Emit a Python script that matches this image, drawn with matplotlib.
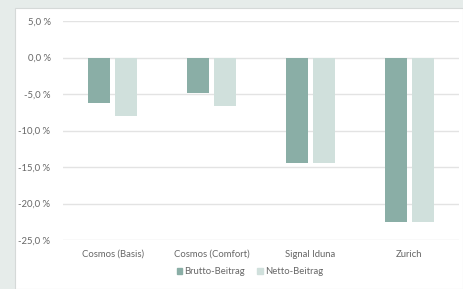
import matplotlib
matplotlib.use("Agg")
import matplotlib.pyplot as plt
from matplotlib.patches import Rectangle, Patch
from matplotlib.ticker import FuncFormatter
import numpy as np

categories = ["Cosmos (Basis)", "Cosmos (Comfort)", "Signal Iduna", "Zurich"]
brutto = [-6.2, -4.8, -14.5, -22.6]
netto = [-8.0, -6.6, -14.5, -22.6]
series_names = ["Brutto-Beitrag", "Netto-Beitrag"]
yticks = [5, 0, -5, -10, -15, -20, -25]

c_brutto = "#8aaea6"
c_netto = "#d0e0dc"
txt = "#666666"

plt.rcParams['font.family'] = ['Lato', 'DejaVu Sans']

W, H = 463, 289
fig = plt.figure(figsize=(W/100, H/100), dpi=100)
fig.patch.set_facecolor("#e6ecea")
fig.patches.append(Rectangle((15/W, 0), 1 - 15/W, 1 - 8/H, transform=fig.transFigure,
                             facecolor="white", edgecolor="#d5d9d8", linewidth=0.8, zorder=-5))

ax = fig.add_axes([63/W, 1 - 240/H, (459-63)/W, (240-21)/H])
ax.set_facecolor("none")
x = np.arange(len(categories))
bw = 0.222
off = 0.141
ax.bar(x - off, brutto, bw, color=c_brutto, zorder=3)
ax.bar(x + off, netto, bw, color=c_netto, zorder=3)

ax.set_xlim(-0.5, len(categories) - 0.5)
ax.set_ylim(-25, 5)
ax.set_yticks(yticks)
ax.yaxis.set_major_formatter(FuncFormatter(lambda v, p: f"{v:.1f} %".replace(".", ",")))
ax.set_xticks(x)
ax.set_xticklabels(categories)
ax.grid(axis="y", color="#e3e3e3", linewidth=1.0, zorder=0)
for s in ax.spines.values():
    s.set_visible(False)
ax.tick_params(axis="both", length=0, colors=txt, labelsize=6.8)
ax.tick_params(axis="y", pad=9)
ax.tick_params(axis="x", pad=7)

handles = [Patch(color=c_brutto), Patch(color=c_netto)]
fig.legend(handles, series_names, loc="center", bbox_to_anchor=(250/W, 1 - 272/H),
           ncol=2, frameon=False, fontsize=6.8, labelcolor=txt,
           handlelength=0.55, handleheight=0.55, handletextpad=0.25, columnspacing=1.3)

fig.savefig("out.png", dpi=100, facecolor=fig.get_facecolor())
